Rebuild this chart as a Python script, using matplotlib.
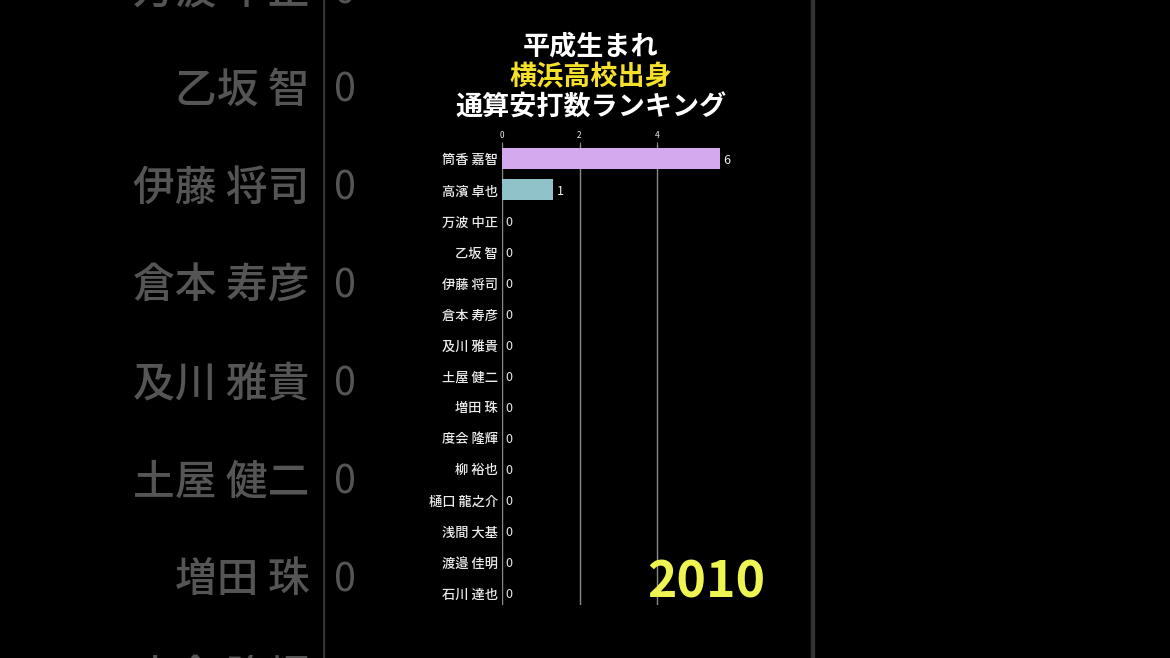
import matplotlib
matplotlib.use("Agg")
import matplotlib.pyplot as plt
from matplotlib.patches import Rectangle

plt.rcParams['font.family'] = ['Noto Sans CJK JP', 'DejaVu Sans']

players = ["筒香 嘉智", "高濱 卓也", "万波 中正", "乙坂 智", "伊藤 将司", "倉本 寿彦",
           "及川 雅貴", "土屋 健二", "増田 珠", "度会 隆輝", "柳 裕也", "樋口 龍之介",
           "浅間 大基", "渡邉 佳明", "石川 達也"]
# displayed (mid-animation) bar lengths and the value labels shown
bar_lengths = [5.63, 1.32, 0, 0, 0, 0, 0, 0, 0, 0, 0, 0, 0, 0, 0]
hit_labels = [6, 1, 0, 0, 0, 0, 0, 0, 0, 0, 0, 0, 0, 0, 0]
bar_colors = ["#d4a9ee", "#8fc3c9"] + ["#888888"] * 13
x_ticks = [0, 2, 4]
year = "2010"
title_lines = ["平成生まれ", "横浜高校出身", "通算安打数ランキング"]
title_colors = ["#ffffff", "#f5e02a", "#ffffff"]

W, H = 1170, 658
fig = plt.figure(figsize=(W / 100, H / 100), dpi=100, facecolor="black")

XMAX = 5.9
ylim = (14.39, -0.45)
# main axes pixel box
L, R, T, B = 502, 502 + XMAX * 38.75, 145, 605
cx, cy = 585, 329
s = W / 370.0


def draw_chart(ax, scale, txt_col, grid_col, alpha_bars, weight):
    ax.set_facecolor("none")
    ax.set_xlim(0, XMAX)
    ax.set_ylim(*ylim)
    y = list(range(len(players)))
    ax.barh(y, bar_lengths, height=0.68, color=bar_colors, alpha=alpha_bars, zorder=3)
    for i, (v, lab) in enumerate(zip(bar_lengths, hit_labels)):
        ax.annotate(str(lab), (v, i), xytext=(2.5 * scale, -1.2 * scale),
                    textcoords="offset points",
                    va="center", ha="left", fontsize=9 * scale, color=txt_col, zorder=4)
    ax.set_yticks(y)
    ax.set_yticklabels(players, fontsize=9.5 * scale, color=txt_col, fontweight=weight)
    ax.set_xticks(x_ticks)
    ax.xaxis.tick_top()
    ax.tick_params(axis="x", labelsize=6 * scale, colors=grid_col, length=2.5 * scale,
                   width=0.8 * scale, pad=1.0 * scale, labelcolor=txt_col)
    ax.tick_params(axis="y", length=0, pad=3 * scale)
    ax.grid(axis="x", color=grid_col, linewidth=1.0 * scale, zorder=1)
    for sp in ax.spines.values():
        sp.set_visible(False)


# background: enlarged, dimmed copy of the panel
bl = cx + (L - cx) * s
br = cx + (R - cx) * s
bt = cy + (T - cy) * s
bb = cy + (B - cy) * s
bg = fig.add_axes([bl / W, 1 - bb / H, (br - bl) / W, (bb - bt) / H])
draw_chart(bg, s, "#555555", "#333333", 0.3, "medium")

# black panel in the middle
fig.add_artist(Rectangle((400 / W, 0), 370 / W, 1, transform=fig.transFigure,
                         facecolor="black", edgecolor="none", zorder=5))

ax = fig.add_axes([L / W, 1 - B / H, (R - L) / W, (B - T) / H], zorder=10)
draw_chart(ax, 1.0, "#ececec", "#8a8a8a", 1.0, "medium")

ys = [46, 77, 108]
for t, c, yy in zip(title_lines, title_colors, ys):
    fig.text(591 / W, 1 - yy / H, t, color=c, fontsize=19.5, fontweight="bold",
             ha="center", va="center", zorder=11)

fig.text(706 / W, 1 - 583 / H, year, color="#eef552", fontsize=36, fontweight="bold",
         ha="center", va="center", zorder=11)

fig.savefig("out.png", dpi=100, facecolor="black")
